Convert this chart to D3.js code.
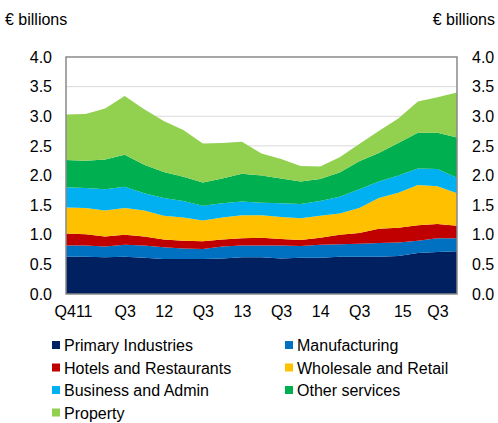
<!DOCTYPE html>
<html>
<head>
<meta charset="utf-8">
<script src="https://cdn.jsdelivr.net/npm/d3@7"></script>
<style>
  html, body { margin: 0; padding: 0; background: #fff; }
  svg { display: block; font-family: "Liberation Sans", Arial, sans-serif; }
</style>
</head>
<body>
<svg id="chart" width="498" height="423"></svg>
<script>
// ---- data ----
const quarters = ["Q1 11","Q2 11","Q3 11","Q4 11","Q1 12","Q2 12","Q3 12","Q4 12","Q1 13","Q2 13","Q3 13","Q4 13","Q1 14","Q2 14","Q3 14","Q4 14","Q1 15","Q2 15","Q3 15","Q4 15","Q1 16"];
const tickIndex = [0, 3, 5, 7, 9, 11, 13, 15, 17, 19];
const tickLabels = ["Q411", "Q3", "12", "Q3", "13", "Q3", "14", "Q3", "15", "Q3"];
const yTicks = [0, 0.5, 1, 1.5, 2, 2.5, 3, 3.5, 4];

const seriesNames = ["Primary Industries","Manufacturing","Hotels and Restaurants","Wholesale and Retail","Business and Admin","Other services","Property"];
const seriesColors = ["#002060","#0070C0","#C00000","#FFC000","#00B0F0","#00B050","#92D050"];

const primary       = [0.63,0.63,0.62,0.63,0.61,0.59,0.59,0.59,0.60,0.62,0.62,0.60,0.61,0.61,0.63,0.63,0.63,0.64,0.69,0.71,0.72];
const manufacturing = [0.19,0.19,0.18,0.20,0.21,0.20,0.18,0.17,0.20,0.20,0.20,0.22,0.20,0.22,0.21,0.22,0.23,0.23,0.21,0.23,0.22];
const hotels        = [0.20,0.19,0.17,0.17,0.15,0.13,0.13,0.13,0.12,0.12,0.13,0.11,0.10,0.12,0.16,0.18,0.24,0.25,0.26,0.24,0.21];
const wholesale     = [0.44,0.44,0.44,0.45,0.44,0.40,0.39,0.35,0.37,0.39,0.38,0.37,0.37,0.37,0.36,0.42,0.52,0.59,0.68,0.64,0.55];
const business      = [0.34,0.34,0.36,0.36,0.29,0.30,0.28,0.25,0.24,0.23,0.21,0.23,0.24,0.25,0.28,0.32,0.28,0.29,0.28,0.29,0.26];
const otherServices = [0.46,0.46,0.50,0.54,0.48,0.44,0.41,0.39,0.42,0.47,0.46,0.42,0.38,0.37,0.41,0.47,0.48,0.55,0.60,0.61,0.68];
const property      = [0.77,0.79,0.86,0.99,0.94,0.86,0.79,0.66,0.60,0.54,0.37,0.33,0.26,0.21,0.26,0.29,0.37,0.41,0.53,0.60,0.76];

const seriesValues = [primary, manufacturing, hotels, wholesale, business, otherServices, property];

// ---- layout ----
const svg = d3.select("#chart");
const plotLeft = 66, plotRight = 457, plotTop = 57, plotBottom = 294;

const table = quarters.map((q, i) => {
  const row = { i };
  seriesNames.forEach((n, k) => row[n] = seriesValues[k][i]);
  return row;
});

const x = d3.scaleLinear().domain([0, quarters.length - 1]).range([plotLeft, plotRight]);
const y = d3.scaleLinear().domain([0, 4]).range([plotBottom, plotTop]);

// gridlines
svg.append("g").selectAll("line").data(yTicks.filter(t => t > 0 && t < 4)).join("line")
  .attr("x1", plotLeft).attr("x2", plotRight)
  .attr("y1", d => y(d)).attr("y2", d => y(d))
  .attr("stroke", "#D9D9D9").attr("stroke-width", 1);

// stacked areas
const stack = d3.stack().keys(seriesNames);
const layers = stack(table);
const area = d3.area()
  .x(d => x(d.data.i))
  .y0(d => y(d[0]))
  .y1(d => y(d[1]));

svg.append("g").selectAll("path").data(layers).join("path")
  .attr("d", area)
  .attr("fill", (d, k) => seriesColors[k]);

// plot border
svg.append("rect")
  .attr("x", plotLeft).attr("y", plotTop)
  .attr("width", plotRight - plotLeft).attr("height", plotBottom - plotTop)
  .attr("fill", "none").attr("stroke", "#898989").attr("stroke-width", 1.5);

// y axes (left & right)
const fmt = d3.format(".1f");
const leftAxis = d3.axisLeft(y).tickValues(yTicks).tickFormat(fmt).tickSize(0).tickPadding(14);
const rightAxis = d3.axisRight(y).tickValues(yTicks).tickFormat(fmt).tickSize(0).tickPadding(15);

const gl = svg.append("g").attr("transform", `translate(${plotLeft},0)`).call(leftAxis);
const gr = svg.append("g").attr("transform", `translate(${plotRight},0)`).call(rightAxis);
[gl, gr].forEach(g => {
  g.select(".domain").remove();
  g.selectAll("text").attr("font-size", 16).attr("fill", "#000")
    .attr("font-family", "'Liberation Sans', Arial, sans-serif");
});

// x axis labels
const xAxis = d3.axisBottom(x)
  .tickValues(tickIndex)
  .tickFormat((d, i) => tickLabels[i])
  .tickSize(0).tickPadding(12);
const gx = svg.append("g").attr("transform", `translate(0,${plotBottom})`).call(xAxis);
gx.select(".domain").remove();
gx.selectAll("text").attr("font-size", 16).attr("fill", "#000")
  .attr("font-family", "'Liberation Sans', Arial, sans-serif")
  .attr("dx", (d, i) => i === 0 ? 7 : (i === 8 ? 4 : 0));

// units
svg.append("text").attr("x", 5).attr("y", 25).attr("font-size", 16).text("€ billions");
svg.append("text").attr("x", 495).attr("y", 25).attr("font-size", 16)
  .attr("text-anchor", "end").text("€ billions");

// legend
const legend = svg.append("g");
seriesNames.forEach((n, k) => {
  const col = k % 2, row = Math.floor(k / 2);
  const lx = col === 0 ? 52 : 285;
  const ly = 345 + row * 22.5;
  legend.append("rect").attr("x", lx).attr("y", ly - 4).attr("width", 8).attr("height", 8)
    .attr("fill", seriesColors[k]);
  legend.append("text").attr("x", lx + 12).attr("y", ly + 6).attr("font-size", 16)
    .attr("fill", "#000").text(n);
});
</script>
</body>
</html>
